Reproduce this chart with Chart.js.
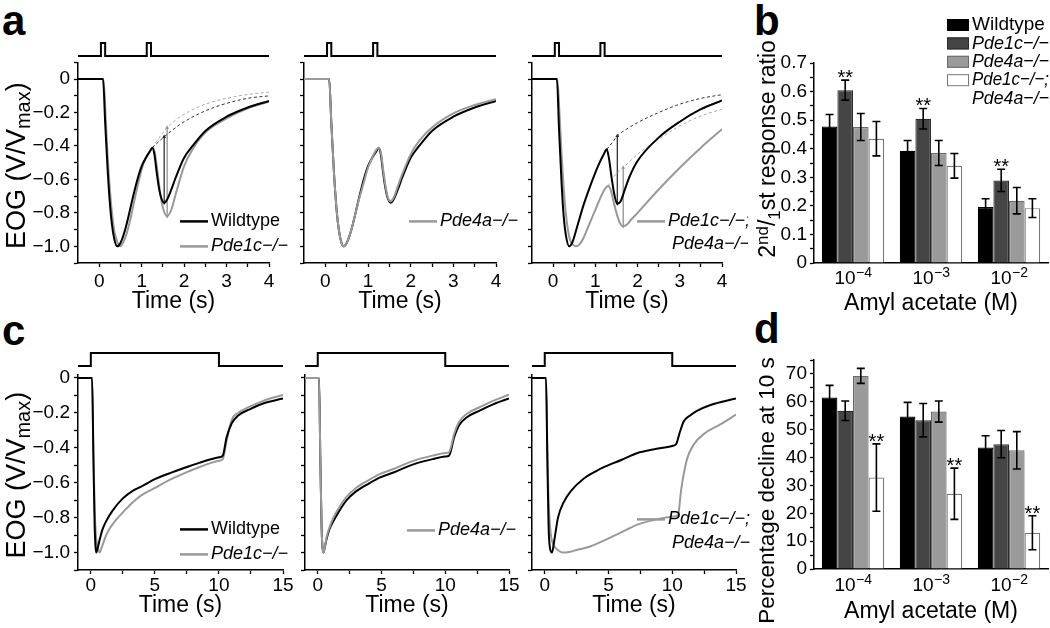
<!DOCTYPE html>
<html>
<head>
<meta charset="utf-8">
<script src="https://cdn.jsdelivr.net/npm/chart.js"></script>
<style>
  body { margin: 0; width: 1050px; height: 628px; position: relative; overflow: hidden; background: #fff; }
  .tag { position: absolute; font: bold 42px "Liberation Sans", Arial, sans-serif; line-height: 1; color: #000; }
  canvas { position: absolute; }
</style>
</head>
<body>
<div class="tag" style="left:2px;top:0px">a</div>
<div class="tag" style="left:754px;top:0px">b</div>
<div class="tag" style="left:2px;top:310px">c</div>
<div class="tag" style="left:754px;top:308px">d</div>
<script>
// ---------- stimulus traces ----------
const pulseT = [-0.5, 0.04, 0.14, 1.12, 1.22, 4];
const pulseV = [0, 1, 0, 1, 0, 0];
const stepT = [-1, 0, 10, 15];
const stepV = [0, 1, 0, 0];

// ---------- axis ticks ----------
const timeTicksA = [0, 0.5, 1, 1.5, 2, 2.5, 3, 3.5, 4];
const timeLabelsA = [0, 1, 2, 3, 4];
const timeTicksC = [0, 2.5, 5, 7.5, 10, 12.5, 15];
const timeLabelsC = [0, 5, 10, 15];
const eogTicks = [-1.1, -1.0, -0.9, -0.8, -0.7, -0.6, -0.5, -0.4, -0.3, -0.2, -0.1, 0, 0.1];
const eogMajor = [0, -0.2, -0.4, -0.6, -0.8, -1.0];
const eogMajorText = ['0', '\u22120.2', '\u22120.4', '\u22120.6', '\u22120.8', '\u22121.0'];

// ---------- panel a, paired pulses (V/Vmax) ----------
const a1WtT = [-0.5, 0.09, 0.14, 0.2, 0.26, 0.3, 0.35, 0.42, 0.5, 0.6, 0.7, 0.8, 0.9, 1.0, 1.1, 1.2, 1.25, 1.3, 1.35, 1.4, 1.46, 1.53, 1.6, 1.7, 1.8, 2.0, 2.2, 2.5, 3.0, 3.5, 4.0];
const a1WtV = [0, 0, -0.26, -0.55, -0.77, -0.87, -0.95, -1.0, -0.98, -0.91, -0.81, -0.7, -0.6, -0.52, -0.47, -0.43, -0.41, -0.45, -0.55, -0.64, -0.71, -0.74, -0.72, -0.66, -0.59, -0.47, -0.4, -0.31, -0.225, -0.17, -0.13];
const a1P1T = [-0.5, 0.1, 0.15, 0.2, 0.26, 0.3, 0.35, 0.42, 0.49, 0.56, 0.65, 0.75, 0.85, 0.95, 1.05, 1.15, 1.26, 1.31, 1.37, 1.43, 1.5, 1.6, 1.7, 1.8, 2.0, 2.2, 2.5, 3.0, 3.5, 4.0];
const a1P1V = [0, 0, -0.22, -0.47, -0.69, -0.8, -0.9, -0.97, -1.0, -0.98, -0.92, -0.82, -0.7, -0.59, -0.5, -0.45, -0.41, -0.44, -0.55, -0.67, -0.77, -0.82, -0.78, -0.69, -0.52, -0.42, -0.32, -0.235, -0.175, -0.135];
const a1WtFitT = [1.25, 1.4, 1.53, 1.8, 2.0, 2.5, 3.0, 3.5, 4.0];
const a1WtFitV = [-0.41, -0.375, -0.345, -0.29, -0.255, -0.19, -0.145, -0.115, -0.1];
const a1P1FitT = [1.26, 1.4, 1.6, 1.8, 2.0, 2.5, 3.0, 3.5, 4.0];
const a1P1FitV = [-0.41, -0.355, -0.29, -0.245, -0.21, -0.15, -0.115, -0.092, -0.078];
const a1WtArrow = [1.53, -0.345, -0.74];
const a1P1Arrow = [1.6, -0.29, -0.82];

const a2P4T = [-0.5, 0.09, 0.14, 0.2, 0.26, 0.3, 0.35, 0.42, 0.5, 0.6, 0.7, 0.8, 0.9, 1.0, 1.1, 1.2, 1.26, 1.31, 1.36, 1.41, 1.47, 1.53, 1.6, 1.7, 1.8, 2.0, 2.2, 2.5, 3.0, 3.5, 4.0];
const a2P4V = [0, 0, -0.26, -0.55, -0.77, -0.87, -0.95, -1.0, -0.98, -0.91, -0.81, -0.71, -0.62, -0.53, -0.47, -0.42, -0.41, -0.45, -0.55, -0.64, -0.71, -0.73, -0.71, -0.64, -0.57, -0.45, -0.37, -0.29, -0.205, -0.155, -0.12];

const a3WtT = [-0.5, 0.09, 0.14, 0.2, 0.25, 0.3, 0.38, 0.45, 0.55, 0.7, 0.85, 1.0, 1.1, 1.2, 1.27, 1.32, 1.38, 1.45, 1.52, 1.6, 1.7, 1.8, 2.0, 2.5, 3.0, 3.5, 4.0];
const a3WtV = [0, 0, -0.3, -0.62, -0.82, -0.93, -1.0, -0.98, -0.9, -0.77, -0.66, -0.56, -0.5, -0.45, -0.42, -0.47, -0.58, -0.69, -0.745, -0.73, -0.66, -0.59, -0.49, -0.35, -0.255, -0.18, -0.128];
const a3DkT = [-0.5, 0.1, 0.15, 0.2, 0.25, 0.3, 0.35, 0.4, 0.47, 0.54, 0.62, 0.72, 0.82, 0.92, 1.02, 1.12, 1.22, 1.3, 1.36, 1.43, 1.5, 1.58, 1.66, 1.75, 1.85, 2.0, 2.5, 3.0, 3.5, 4.0];
const a3DkV = [0, 0, -0.2, -0.45, -0.65, -0.8, -0.9, -0.96, -0.99, -1.0, -0.99, -0.95, -0.89, -0.83, -0.77, -0.71, -0.66, -0.64, -0.66, -0.73, -0.8, -0.86, -0.88, -0.87, -0.84, -0.8, -0.66, -0.53, -0.41, -0.3];
const a3WtFitT = [1.27, 1.4, 1.52, 1.8, 2.0, 2.5, 3.0, 3.5, 4.0];
const a3WtFitV = [-0.42, -0.38, -0.34, -0.29, -0.26, -0.2, -0.15, -0.115, -0.093];
const a3DkFitT = [1.3, 1.45, 1.66, 2.0, 2.5, 3.0, 3.5, 4.0];
const a3DkFitV = [-0.64, -0.58, -0.53, -0.45, -0.36, -0.28, -0.22, -0.18];
const a3WtArrow = [1.52, -0.34, -0.745];
const a3DkArrow = [1.66, -0.53, -0.88];

// ---------- panel c, 10 s step (V/Vmax) ----------
const c1WtT = [-1, 0.1, 0.2, 0.3, 0.36, 0.42, 0.55, 0.68, 0.9, 1.2, 1.7, 2.5, 3.3, 4.0, 5.0, 6.0, 7.5, 8.5, 10.0, 10.3, 10.6, 11.0, 11.5, 12.4, 13.5, 15];
const c1WtV = [0, 0, -0.45, -0.85, -0.96, -1.0, -0.97, -0.93, -0.87, -0.82, -0.76, -0.69, -0.645, -0.62, -0.58, -0.55, -0.51, -0.485, -0.455, -0.445, -0.34, -0.26, -0.215, -0.18, -0.145, -0.118];
const c1P1T = [-1, 0.1, 0.2, 0.3, 0.4, 0.5, 0.6, 0.68, 0.8, 1.0, 1.2, 1.5, 2.0, 2.5, 3.3, 4.0, 5.0, 6.0, 7.5, 8.5, 10.0, 10.3, 10.6, 11.0, 11.5, 12.4, 13.5, 15];
const c1P1V = [0, 0, -0.4, -0.75, -0.9, -0.96, -0.99, -1.0, -0.98, -0.94, -0.9, -0.86, -0.81, -0.77, -0.71, -0.67, -0.63, -0.59, -0.54, -0.51, -0.475, -0.465, -0.36, -0.24, -0.2, -0.165, -0.13, -0.098];
const c2WtT = [-1, 0.1, 0.2, 0.3, 0.36, 0.45, 0.55, 0.7, 0.9, 1.23, 1.7, 2.27, 3.0, 4.0, 4.9, 6.0, 7.5, 9.0, 10.0, 10.3, 10.7, 11.1, 11.7, 12.7, 13.8, 15];
const c2WtV = [0, 0, -0.45, -0.85, -0.96, -1.0, -0.97, -0.92, -0.87, -0.82, -0.76, -0.7, -0.65, -0.605, -0.57, -0.54, -0.495, -0.465, -0.45, -0.445, -0.34, -0.27, -0.225, -0.187, -0.15, -0.118];
const c2P4T = [-1, 0.1, 0.2, 0.3, 0.36, 0.45, 0.55, 0.7, 0.9, 1.23, 1.7, 2.27, 3.0, 4.0, 4.9, 6.0, 7.5, 9.0, 10.0, 10.3, 10.7, 11.1, 11.7, 12.7, 13.8, 15];
const c2P4V = [0, 0, -0.45, -0.85, -0.96, -1.0, -0.97, -0.91, -0.86, -0.8, -0.74, -0.68, -0.63, -0.585, -0.55, -0.52, -0.475, -0.445, -0.43, -0.425, -0.32, -0.25, -0.205, -0.168, -0.13, -0.096];
const c3WtT = [-1, 0.1, 0.2, 0.3, 0.4, 0.57, 0.75, 1.04, 1.5, 2.08, 3.0, 4.0, 4.67, 6.0, 7.27, 8.5, 10.0, 10.3, 10.6, 10.9, 11.4, 11.9, 13.0, 15];
const c3WtV = [0, 0, -0.45, -0.85, -0.97, -1.0, -0.93, -0.8, -0.71, -0.645, -0.58, -0.535, -0.51, -0.47, -0.43, -0.41, -0.39, -0.38, -0.31, -0.25, -0.215, -0.19, -0.155, -0.118];
const c3DkT = [-1, 0.1, 0.2, 0.3, 0.45, 0.6, 0.8, 1.1, 1.4, 2.0, 2.5, 3.37, 4.67, 6.0, 7.27, 8.5, 10.0, 10.45, 10.7, 10.9, 11.2, 11.7, 12.5, 13.8, 15];
const c3DkV = [0, 0, -0.4, -0.7, -0.88, -0.94, -0.97, -0.99, -1.0, -0.995, -0.985, -0.97, -0.93, -0.885, -0.84, -0.815, -0.795, -0.785, -0.64, -0.55, -0.455, -0.38, -0.32, -0.265, -0.21];

// ---------- panels b and d ----------
const doseLabels = ['10\u207B\u2074', '10\u207B\u00B3', '10\u207B\u00B2'];
const doseExponents = ['\u22124', '\u22123', '\u22122'];
const genotypes = ['Wildtype', 'Pde1c\u2212/\u2212', 'Pde4a\u2212/\u2212', ['Pde1c\u2212/\u2212;', 'Pde4a\u2212/\u2212']];
const ratioMean = [[0.478, 0.393, 0.196], [0.605, 0.505, 0.289], [0.476, 0.385, 0.218], [0.435, 0.34, 0.192]];
const ratioErr = [[0.042, 0.036, 0.029], [0.035, 0.036, 0.039], [0.047, 0.044, 0.046], [0.06, 0.043, 0.033]];
const ratioStars = [[0, 0, 0], [1, 1, 1], [0, 0, 0], [0, 0, 0]];
const ratioTicks = [0, 0.05, 0.1, 0.15, 0.2, 0.25, 0.3, 0.35, 0.4, 0.45, 0.5, 0.55, 0.6, 0.65, 0.7];
const ratioMajor = [0, 0.1, 0.2, 0.3, 0.4, 0.5, 0.6, 0.7];
const ratioMajorText = ['0', '0.1', '0.2', '0.3', '0.4', '0.5', '0.6', '0.7'];
const declineMean = [[61.5, 54.7, 43.6], [56.8, 53.4, 44.8], [69.3, 56.5, 42.6], [32.8, 27.0, 13.0]];
const declineErr = [[4.4, 5.1, 4.2], [3.5, 6.0, 4.9], [2.7, 3.8, 6.7], [12.1, 9.2, 6.1]];
const declineStars = [[0, 0, 0], [0, 0, 0], [0, 0, 0], [1, 1, 1]];
const declineTicks = [0, 5, 10, 15, 20, 25, 30, 35, 40, 45, 50, 55, 60, 65, 70, 75];
const declineMajor = [0, 10, 20, 30, 40, 50, 60, 70];
const declineMajorText = ['0', '10', '20', '30', '40', '50', '60', '70'];

const barFill = ['#000000', '#454545', '#9a9a9a', '#ffffff'];
const barEdge = ['#000000', '#2a2a2a', '#6a6a6a', '#777777'];

// ---------- helpers ----------
const FONT = '"Liberation Sans", Arial, "DejaVu Sans", sans-serif';
Chart.defaults.font.family = FONT;
Chart.defaults.color = '#000';

const xy = (t, v) => t.map((x, i) => ({ x: x, y: v[i] }));
const arrow = a => [{ x: a[0], y: a[1] }, { x: a[0], y: a[2] }];
const pick = (ticks, text) => v => {
  const i = ticks.findIndex(m => Math.abs(m - v) < 1e-6);
  return i < 0 ? '' : String(text[i]);
};

function addCanvas(left, top, w, h) {
  const c = document.createElement('canvas');
  c.width = w; c.height = h;
  c.style.left = left + 'px'; c.style.top = top + 'px';
  c.style.width = w + 'px'; c.style.height = h + 'px';
  document.body.appendChild(c);
  return c;
}

// rotated y-axis title with sub/superscript pieces
const richTitle = {
  id: 'richTitle',
  afterDraw(chart, args, o) {
    if (!o.parts) return;
    const { ctx, chartArea: a } = chart;
    const size = o.size;
    const fontOf = p => (p.s ? Math.round(size * 0.75) : size) + 'px ' + FONT;
    ctx.save();
    ctx.translate(a.left - o.dx, (a.top + a.bottom) / 2 + o.dy);
    ctx.rotate(-Math.PI / 2);
    let total = 0;
    o.parts.forEach(p => { ctx.font = fontOf(p); total += ctx.measureText(p.t).width; });
    let x = -total / 2;
    ctx.fillStyle = '#000';
    ctx.textBaseline = 'alphabetic';
    o.parts.forEach(p => {
      ctx.font = fontOf(p);
      const shift = p.s === 'sub' ? size * 0.2 : (p.s === 'sup' ? -size * 0.33 : 0);
      ctx.fillText(p.t, x, size * 0.36 + shift);
      x += ctx.measureText(p.t).width;
    });
    ctx.restore();
  }
};

// line legend placed inside the plot
const lineKey = {
  id: 'lineKey',
  afterDraw(chart, args, o) {
    if (!o.items) return;
    const { ctx, chartArea: a } = chart;
    ctx.save();
    ctx.textBaseline = 'middle';
    o.items.forEach((di, k) => {
      const ds = chart.data.datasets[di];
      const x = a.left + o.x, y = a.top + o.y + k * o.row;
      ctx.strokeStyle = ds.borderColor; ctx.lineWidth = 2.5;
      ctx.beginPath(); ctx.moveTo(x, y); ctx.lineTo(x + 28, y); ctx.stroke();
      [].concat(ds.label).forEach((t, j) => {
        ctx.font = (t.indexOf('\u2212/') >= 0 ? 'italic ' : '') + '18px ' + FONT;
        ctx.fillStyle = '#000';
        ctx.fillText(t, x + 31 + (j ? 4 : 0), y + j * o.row);
      });
    });
    ctx.restore();
  }
};

// error bars, stars, dose labels with exponents, and box legend for the bar panels
const barExtras = {
  id: 'barExtras',
  afterDatasetsDraw(chart, args, o) {
    const { ctx } = chart;
    const ys = chart.scales.y, xs = chart.scales.x;
    ctx.save();
    chart.data.datasets.forEach((ds, i) => {
      const meta = chart.getDatasetMeta(i);
      meta.data.forEach((bar, j) => {
        const m = ds.data[j], e = ds.errors[j];
        const top = ys.getPixelForValue(m + e), bot = ys.getPixelForValue(m - e);
        ctx.strokeStyle = '#000'; ctx.lineWidth = 1.6;
        ctx.beginPath();
        ctx.moveTo(bar.x, top); ctx.lineTo(bar.x, bot);
        ctx.moveTo(bar.x - 4, top); ctx.lineTo(bar.x + 4, top);
        ctx.moveTo(bar.x - 4, bot); ctx.lineTo(bar.x + 4, bot);
        ctx.stroke();
        if (ds.stars[j]) {
          ctx.font = '20px ' + FONT; ctx.fillStyle = '#000';
          ctx.textAlign = 'center'; ctx.textBaseline = 'alphabetic';
          ctx.fillText('**', bar.x, top + 4);
        }
      });
    });
    // dose tick labels: "10" with a raised exponent
    ctx.fillStyle = '#000'; ctx.textBaseline = 'alphabetic'; ctx.textAlign = 'left';
    doseExponents.forEach((ex, i) => {
      const cx = xs.getPixelForTick(i);
      ctx.font = '19px ' + FONT; const w1 = ctx.measureText('10').width;
      ctx.font = '14px ' + FONT; const w2 = ctx.measureText(ex).width;
      const x0 = cx - (w1 + w2) / 2, base = xs.top + o.labelDrop;
      ctx.font = '19px ' + FONT; ctx.fillText('10', x0, base);
      ctx.font = '14px ' + FONT; ctx.fillText(ex, x0 + w1 + 0.5, base - 7);
    });
    if (o.key) {
      const a = chart.chartArea;
      ctx.textAlign = 'left'; ctx.textBaseline = 'middle';
      chart.data.datasets.forEach((ds, i) => {
        const x = a.left + o.key.x, y = a.top + o.key.y + i * o.key.row;
        ctx.fillStyle = ds.backgroundColor; ctx.fillRect(x, y - 6, 22, 12);
        ctx.strokeStyle = ds.borderColor; ctx.lineWidth = 1; ctx.strokeRect(x + 0.5, y - 5.5, 21, 11);
        ctx.fillStyle = '#000';
        [].concat(ds.label).forEach((t, j) => {
          ctx.font = (t.indexOf('\u2212/') >= 0 ? 'italic ' : '') + '19px ' + FONT;
          ctx.fillText(t, x + 25, y + j * o.key.row, chart.width - (x + 25) - 1);
        });
      });
    }
    ctx.restore();
  }
};

function axisStyle(extra) {
  return Object.assign({
    grid: { drawOnChartArea: false, tickLength: 4, tickColor: '#000', tickWidth: 1.3 },
    border: { color: '#000', width: 1.5 }
  }, extra);
}

// ---------- line panels ----------
function linePanel(p) {
  const PT = 14, PR = 26;
  const w = (p.r - p.l) + p.yw + PR, h = (p.b - p.t) + PT + p.xh;
  const cv = addCanvas(p.l - p.yw, p.t - PT, w, h);
  new Chart(cv, {
    type: 'line',
    data: { datasets: p.datasets },
    options: {
      responsive: false, animation: false,
      layout: { padding: { top: PT, right: PR, left: 0, bottom: 0 } },
      elements: { point: { radius: 0 }, line: { borderWidth: 2, cubicInterpolationMode: 'monotone' } },
      plugins: { legend: { display: false }, tooltip: { enabled: false }, lineKey: p.key || {}, richTitle: p.title || {} },
      scales: {
        x: axisStyle({
          type: 'linear', min: p.xr[0], max: p.xr[1],
          afterFit: s => { s.height = p.xh; },
          afterBuildTicks: s => { s.ticks = p.xTicks.map(v => ({ value: v })); },
          ticks: { autoSkip: false, maxRotation: 0, padding: p.xpad, font: { size: 19 }, callback: pick(p.xLabels, p.xLabels) },
          title: { display: true, text: 'Time (s)', font: { size: 23, lineHeight: 1 }, padding: 0 }
        }),
        y: axisStyle({
          type: 'linear', min: p.yr[0], max: p.yr[1],
          afterFit: s => { s.width = p.yw; },
          afterBuildTicks: s => { s.ticks = p.yTicks.map(v => ({ value: v })); },
          ticks: { autoSkip: false, padding: 4, font: { size: 19 }, callback: p.yText ? pick(eogMajor, eogMajorText) : () => '' }
        })
      }
    },
    plugins: [lineKey, richTitle]
  });
}

function stimPanel(l, r, top, h, xr, t, v) {
  const cv = addCanvas(l, top, r - l, h);
  new Chart(cv, {
    type: 'line',
    data: { datasets: [{ data: xy(t, v), borderColor: '#000', borderWidth: 2, stepped: 'before', pointRadius: 0, clip: false }] },
    options: {
      responsive: false, animation: false,
      layout: { padding: 0 },
      plugins: { legend: { display: false }, tooltip: { enabled: false } },
      scales: {
        x: { type: 'linear', display: false, min: xr[0], max: xr[1] },
        y: { display: false, min: -0.15, max: 1.15 }
      }
    }
  });
}

const BLACK = '#000000', GREY = '#999999';
const solid = (label, data, color) => ({ label: label, data: data, borderColor: color });
const dashed = (data, color) => ({ label: '', data: data, borderColor: color, borderWidth: 1, borderDash: [3, 2.5] });
const thin = (data, color) => ({ label: '', data: data, borderColor: color, borderWidth: 1.2, cubicInterpolationMode: 'default',
  pointRadius: 2.2, pointStyle: 'triangle', pointRotation: [0, 180], pointBackgroundColor: color, pointBorderWidth: 0 });
const eogTitle = { dx: 63, dy: 3, size: 27, parts: [{ t: 'EOG (V/V' }, { t: 'max', s: 'sub' }, { t: ')' }] };

// a
stimPanel(78, 269, 41, 17, [-0.5, 4], pulseT, pulseV);
stimPanel(304, 496, 41, 17, [-0.5, 4], pulseT, pulseV);
stimPanel(532, 722, 41, 17, [-0.5, 4], pulseT, pulseV);
const aBase = { t: 61, b: 263, xh: 50, xpad: 3, xr: [-0.5, 4], yr: [-1.1, 0.1], xTicks: timeTicksA, xLabels: timeLabelsA, yTicks: eogTicks };
linePanel(Object.assign({}, aBase, {
  l: 78, r: 269, yw: 78, yText: true, title: eogTitle,
  key: { x: 102, y: 159, row: 25, items: [0, 1] },
  datasets: [solid('Wildtype', xy(a1WtT, a1WtV), BLACK), solid(genotypes[1], xy(a1P1T, a1P1V), GREY),
    dashed(xy(a1WtFitT, a1WtFitV), '#333333'), dashed(xy(a1P1FitT, a1P1FitV), '#aaaaaa'),
    thin(arrow(a1WtArrow), '#222222'), thin(arrow(a1P1Arrow), '#888888')]
}));
linePanel(Object.assign({}, aBase, {
  l: 304, r: 496, yw: 14,
  key: { x: 105, y: 159, row: 25, items: [0] },
  datasets: [solid(genotypes[2], xy(a2P4T, a2P4V), GREY), solid('Wildtype', xy(a1WtT, a1WtV), BLACK)]
}));
linePanel(Object.assign({}, aBase, {
  l: 532, r: 722, yw: 14,
  key: { x: 105, y: 159, row: 23, items: [1] },
  datasets: [solid('Wildtype', xy(a3WtT, a3WtV), BLACK), solid(genotypes[3], xy(a3DkT, a3DkV), GREY),
    dashed(xy(a3WtFitT, a3WtFitV), '#333333'), dashed(xy(a3DkFitT, a3DkFitV), '#aaaaaa'),
    thin(arrow(a3WtArrow), '#222222'), thin(arrow(a3DkArrow), '#888888')]
}));

// c
stimPanel(78, 283, 351, 17, [-1, 15], stepT, stepV);
stimPanel(305, 509, 351, 17, [-1, 15], stepT, stepV);
stimPanel(532, 736, 351, 17, [-1, 15], stepT, stepV);
const cBase = { t: 373, b: 570, xh: 47, xpad: 0, xr: [-1, 15], yr: [-1.1, 0.02], xTicks: timeTicksC, xLabels: timeLabelsC, yTicks: eogTicks.slice(0, 12) };
linePanel(Object.assign({}, cBase, {
  l: 78, r: 283, yw: 78, yText: true, title: eogTitle,
  key: { x: 102, y: 155, row: 25, items: [0, 1] },
  datasets: [solid('Wildtype', xy(c1WtT, c1WtV), BLACK), solid(genotypes[1], xy(c1P1T, c1P1V), GREY)]
}));
linePanel(Object.assign({}, cBase, {
  l: 305, r: 509, yw: 14,
  key: { x: 102, y: 156, row: 25, items: [0] },
  datasets: [solid(genotypes[2], xy(c2P4T, c2P4V), GREY), solid('Wildtype', xy(c2WtT, c2WtV), BLACK)]
}));
linePanel(Object.assign({}, cBase, {
  l: 532, r: 736, yw: 14,
  key: { x: 105, y: 145, row: 24, items: [1] },
  datasets: [solid('Wildtype', xy(c3WtT, c3WtV), BLACK), solid(genotypes[3], xy(c3DkT, c3DkV), GREY)]
}));

// ---------- bar panels ----------
function barPanel(p) {
  const YW = 64, PR = 2;
  const cv = addCanvas(750, p.t - p.pt, 300, (p.b - p.t) + p.pt + p.xh);
  new Chart(cv, {
    type: 'bar',
    data: {
      labels: doseLabels,
      datasets: genotypes.map((g, i) => ({
        label: g, data: p.mean[i], errors: p.err[i], stars: p.stars[i],
        backgroundColor: barFill[i], borderColor: barEdge[i], borderWidth: 1.2,
        barPercentage: 1, categoryPercentage: 0.8
      }))
    },
    options: {
      responsive: false, animation: false,
      layout: { padding: { top: p.pt, right: PR, left: 0, bottom: 0 } },
      plugins: { legend: { display: false }, tooltip: { enabled: false }, barExtras: { key: p.key, labelDrop: p.labelDrop }, richTitle: p.title },
      scales: {
        x: {
          afterFit: s => { s.height = p.xh; },
          grid: { display: false },
          border: { color: '#000', width: 1.5 },
          ticks: { display: false },
          title: { display: true, text: 'Amyl acetate (M)', font: { size: 23, lineHeight: 1 }, padding: 0 }
        },
        y: axisStyle({
          min: 0, max: p.max,
          afterFit: s => { s.width = YW; },
          afterBuildTicks: s => { s.ticks = p.ticks.map(v => ({ value: v })); },
          ticks: { autoSkip: false, padding: 3, font: { size: 19 }, callback: pick(p.major, p.majorText) }
        })
      }
    },
    plugins: [barExtras, richTitle]
  });
}

barPanel({
  t: 63, b: 263, pt: 63, xh: 52, labelDrop: 21, max: 0.7,
  mean: ratioMean, err: ratioErr, stars: ratioStars,
  ticks: ratioTicks, major: ratioMajor, majorText: ratioMajorText,
  key: { x: 133, y: -38, row: 18.4 },
  title: { dx: 47, dy: -14, size: 23, parts: [{ t: '2' }, { t: 'nd', s: 'sup' }, { t: '/' }, { t: '1', s: 'sub' }, { t: 'st response ratio' }] }
});
barPanel({
  t: 360, b: 569, pt: 60, xh: 54, labelDrop: 22, max: 75,
  mean: declineMean, err: declineErr, stars: declineStars,
  ticks: declineTicks, major: declineMajor, majorText: declineMajorText,
  title: { dx: 48, dy: 26, size: 22.5, parts: [{ t: 'Percentage decline at 10 s' }] }
});
</script>
</body>
</html>
